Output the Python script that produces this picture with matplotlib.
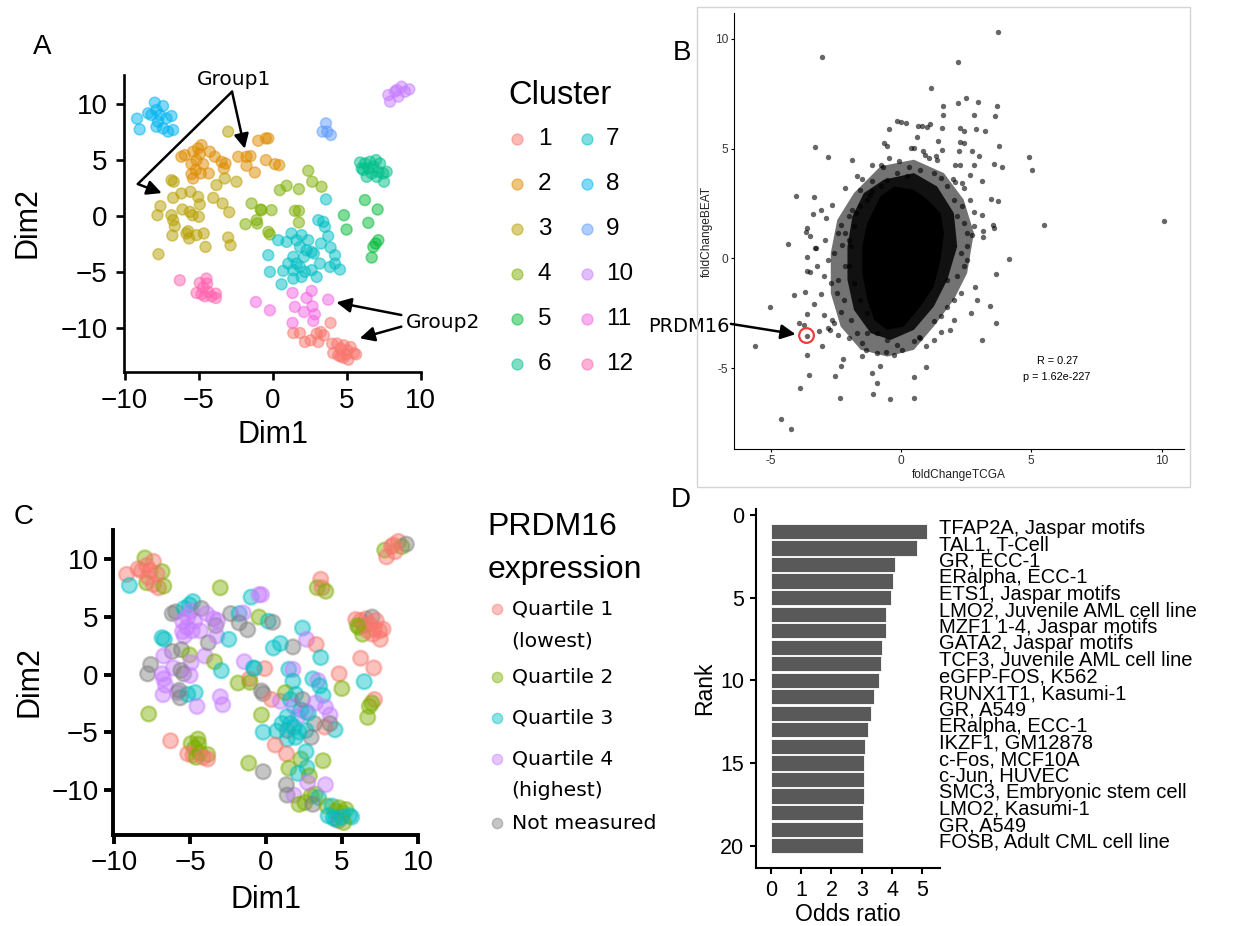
import matplotlib
matplotlib.use("Agg")
import matplotlib.pyplot as plt
from matplotlib.patches import Polygon, Rectangle

plt.rcParams['font.family'] = ['Liberation Sans', 'DejaVu Sans']
ANN_FONT = ['DejaVu Sans']

# ---------------- data: panels A / C (t-SNE coordinates) ----------------
c1_x = [1.39, 1.84, 2.18, 2.56, 2.97, 3.24, 3.46, 3.08, 3.91, 4.02, 4.36, 4.59, 4.81, 5.04, 5.26, 5.49, 5.63, 4.09, 4.43, 4.77, 5.11, 4.59, 4.99]
c1_y = [-10.45, -10.45, -11.25, -11.10, -10.51, -10.36, -10.66, -11.25, -9.55, -11.40, -11.40, -11.85, -11.55, -12.00, -11.70, -12.24, -12.36, -12.24, -12.44, -12.65, -12.83, -12.53, -12.36]
c1_q = [0, 4, 2, 2, 2, 2, 3, 0, 4, 2, 3, 2, 2, 2, 2, 3, 3, 3, 3, 0, 2, 3, 3]

c2_x = [-6.17, -5.94, -5.38, -5.04, -4.81, -4.93, -5.15, -5.49, -5.49, -5.38, -4.70, -4.32, -4.25, -3.91, -3.46, -3.30, -3.19, -2.33, -1.77, -1.50, -1.77, -1.21, -0.46, 0.15, 0.44, -0.98, -0.46, -0.30, -5.20, -4.86]
c2_y = [5.29, 5.44, 5.74, 6.04, 6.33, 5.53, 4.99, 4.63, 3.74, 3.35, 4.63, 3.80, 5.74, 5.29, 4.84, 4.25, 4.69, 5.29, 5.29, 5.35, 4.49, 3.89, 4.99, 4.63, 4.54, 6.72, 6.93, 6.93, 4.10, 3.80]
c2_q = [0, 0, 3, 3, 3, 4, 4, 4, 4, 4, 4, 4, 0, 4, 4, 0, 4, 0, 3, 4, 0, 0, 2, 3, 0, 3, 4, 4, 4, 4]

c3_x = [-3.01, -6.84, -6.69, -6.17, -6.73, -7.59, -7.79, -6.84, -6.10, -5.56, -5.04, -4.93, -5.60, -5.42, -4.99, -4.02, -3.39, -2.94, -3.80, -3.24, -2.45, -6.73, -6.62, -6.78, -5.83, -5.65, -5.15, -4.66, -4.54, -3.01, -2.85, -7.72, -5.72]
c3_y = [7.53, 3.20, 3.06, 2.01, 1.62, 0.88, 0.07, 0.07, 0.58, 2.16, 1.71, 1.03, 0.37, 0.07, -0.07, 1.62, 1.12, 0.34, 2.76, 3.35, 3.06, -0.37, -0.91, -1.74, -1.56, -2.01, -1.71, -1.56, -2.76, -1.92, -2.61, -3.41, -1.36]
c3_q = [2, 3, 3, 0, 4, 0, 0, 4, 4, 0, 2, 4, 0, 0, 4, 4, 2, 3, 0, 4, 3, 4, 4, 4, 4, 0, 3, 3, 4, 4, 4, 2, 0]

c4_x = [2.40, 2.67, 1.77, 3.30, 0.48, 0.94, -1.43, -0.76, -0.08, 1.50, 1.77, 1.77, -1.84, -1.09, -1.05, -0.30, -0.19, -0.82]
c4_y = [4.04, 3.06, 2.40, 2.61, 2.31, 2.70, 1.12, 0.52, 0.52, 0.46, 0.46, -0.58, -0.73, -0.37, -0.67, -1.42, -1.65, 0.58]
c4_q = [3, 4, 0, 1, 3, 3, 4, 3, 1, 3, 4, 3, 2, 1, 2, 0, 0, 3]

c5_x = [6.23, 7.09, 6.46, 4.81, 4.99, 7.14, 6.80, 6.69, 6.96]
c5_y = [1.42, 0.58, -0.61, 0.07, -1.21, -2.16, -2.76, -3.71, -2.46]
c5_q = [1, 1, 3, 1, 2, 1, 2, 2, 2]

c6_x = [5.90, 6.23, 6.57, 6.98, 7.25, 6.12, 6.46, 6.80, 7.14, 7.47, 7.70, 6.35, 6.69, 7.02, 7.52, 6.01]
c6_y = [4.78, 4.69, 4.84, 4.99, 4.69, 4.10, 4.25, 4.40, 3.95, 3.80, 3.95, 3.50, 3.80, 3.50, 3.06, 4.25]
c6_q = [1, 1, 1, 0, 1, 2, 1, 1, 1, 1, 1, 2, 1, 1, 1, 2]

c7_x = [3.60, 3.08, 3.42, 3.75, 3.91, 4.21, 4.54, 3.87, 3.19, 2.63, 2.97, 2.18, 1.95, 1.39, 1.05, 0.71, 0.37, 0.94, 1.27, 1.61, 1.95, 1.84, 2.29, 2.63, 2.11, 1.84, 1.39, 0.60, -0.30, -0.19, 1.61, 2.40, 2.78, 3.26, 1.39, 4.21, 3.53]
c7_y = [1.48, -0.37, -0.52, -1.80, -2.82, -3.50, -4.78, -4.55, -4.25, -4.84, -5.44, -4.99, -5.44, -4.84, -4.25, -4.90, -2.16, -2.31, -1.56, -2.16, -1.71, -2.76, -3.06, -3.20, -3.65, -4.55, -5.59, -6.10, -3.50, -4.99, -4.25, -2.16, -3.35, -2.46, -3.65, -4.25, -0.97]
c7_q = [3, 3, 4, 3, 4, 4, 3, 1, 0, 3, 0, 3, 3, 0, 3, 3, 1, 4, 2, 3, 3, 4, 3, 4, 4, 3, 3, 1, 2, 3, 3, 0, 3, 4, 3, 0, 3]

c8_x = [-9.17, -8.99, -8.42, -7.97, -7.86, -7.41, -7.63, -7.86, -7.41, -7.07, -6.84, -6.73, -8.20, -7.75, -7.18]
c8_y = [8.69, 7.73, 9.17, 10.12, 9.46, 9.82, 9.02, 7.97, 7.82, 7.53, 8.93, 7.68, 9.02, 8.42, 8.72]
c8_q = [1, 3, 1, 2, 1, 1, 1, 2, 1, 1, 2, 2, 1, 1, 1]

c9_x = [3.60, 3.37, 3.69, 3.93]
c9_y = [8.27, 7.53, 7.53, 7.23]
c9_q = [1, 2, 1, 2]

c10_x = [7.81, 7.93, 8.26, 8.71, 8.94, 9.23, 8.49, 8.38]
c10_y = [10.80, 10.21, 11.10, 11.55, 11.10, 11.31, 10.66, 11.25]
c10_q = [2, 1, 1, 1, 2, 0, 1, 1]

c11_x = [1.34, 2.29, 2.63, 2.69, 1.50, 2.11, 2.85, 2.74, 1.34, 3.75, -1.14, -0.19]
c11_y = [-6.87, -7.32, -6.69, -8.06, -8.12, -8.57, -8.78, -9.37, -9.55, -7.47, -7.68, -8.42]
c11_q = [1, 2, 3, 3, 2, 3, 2, 4, 0, 2, 2, 0]

c12_x = [-6.28, -4.93, -4.48, -4.43, -4.70, -5.15, -4.81, -4.36, -3.84, -3.84, -4.59, -4.14]
c12_y = [-5.74, -5.98, -5.59, -6.04, -6.39, -6.87, -6.99, -6.78, -6.93, -7.32, -7.17, -7.17]
c12_q = [1, 2, 2, 2, 2, 1, 1, 2, 2, 1, 2, 1]

cluster_names = ['1', '2', '3', '4', '5', '6', '7', '8', '9', '10', '11', '12']
quartile_names = ['Quartile 1\n(lowest)', 'Quartile 2', 'Quartile 3', 'Quartile 4\n(highest)', 'Not measured']

# ---------------- data: panel B ----------------
beat_x = [3.72, -3.01, 2.20, 1.16, 2.49, 2.20, 2.94, 3.68, 1.61, 1.61, 2.79, 3.62, -0.14, -0.01, 0.18, 0.67, 0.80, 1.11, -0.45, 1.02,
          1.57, 2.26, 2.41, 2.87, 3.21, 0.63, 1.42, 2.26, 2.41, -0.65, -0.55, -3.31, 3.78, 0.37, 0.50, 1.59, 2.22, 0.84, 2.74, 4.91,
          2.99, -2.78, -1.88, -0.08, -0.46, 1.07, 1.33, 1.38, 0.92, 3.57, 3.86, 5.03, -1.09, -0.78, -0.68, 0.31, 2.06, 2.25, 2.79, 2.66,
          3.12, 2.01, 2.07, 2.34, 2.41, -1.49, -1.12, -1.70, -2.16, -1.58, -1.20, -1.09, -4.02, -3.33, -2.63, -3.05, -3.39, 3.44, 3.73, 2.64,
          2.80, 3.12, 2.80, 3.52, 3.56, 3.14, 3.14, 5.48, 10.10, 4.14, 3.63, 2.86, 3.41, 3.63, 3.12, 0.95, 0.50, 0.50, -0.42, -1.06,
          -0.93, -1.12, -0.80, -2.34, -2.54, -2.28, -2.21, -3.52, -3.87, -3.59, -4.58, -4.23, -5.58, -5.02, -4.33, -4.10, -3.69, -3.62, -3.91, -3.72,
          -3.59, -3.59, -3.49, -3.65, -3.61, -3.49, -3.29, -3.26, -2.92, -3.01, -2.72, -3.14, -2.80, -2.55, -3.33, -3.08, -2.69, -3.20, -2.80, -2.55,
          -2.86, -2.41, -2.31, -2.00, -2.16, -2.25, -1.88, -1.72, -2.46, -2.18, -2.31, -1.93, -1.67, -1.99, -1.48, -1.35, -1.48, -0.93, -0.59, -0.27,
          0.05, -0.14, 0.50, 0.75, 0.98, 1.26, 1.52, 1.78, 2.03, 2.29, 1.78, 2.16, 2.41, 2.54, 2.29, 2.54, 2.74, 2.54, 2.41, 2.16,
          2.35, 2.03, 1.78, 1.52, 1.26, 0.75, 0.24, -0.14, -0.52, -0.78, -1.29, -1.55, -1.80, -1.93, -1.99, -1.80, -1.55, -1.29, -0.90, -0.52,
          1.26, 1.52, 2.03, 2.67, 2.93, 1.90, 0.68, -1.29, -2.43, -2.63, -2.95, -2.43, -2.95, -2.16, -1.99, -3.62]
beat_y = [10.31, 9.18, 8.97, 7.78, 7.33, 7.07, 7.12, 6.93, 6.93, 6.55, 6.52, 6.51, 6.28, 6.20, 6.18, 6.02, 6.04, 6.14, 5.91, 5.99,
          5.95, 5.95, 5.79, 5.91, 5.79, 5.54, 5.34, 5.29, 5.26, 5.26, 5.11, 5.08, 5.11, 5.03, 5.03, 4.96, 4.88, 4.88, 4.88, 4.61,
          4.65, 4.61, 4.49, 4.44, 4.59, 4.59, 4.68, 4.50, 4.71, 4.32, 4.18, 4.01, 4.24, 4.24, 4.17, 4.17, 4.24, 4.24, 4.24, 3.82,
          3.51, 3.63, 3.48, 3.42, 3.21, 3.63, 3.54, 3.77, 3.19, 3.13, 2.90, 3.06, 2.83, 2.80, 2.42, 2.22, 2.04, 2.72, 2.60, 2.68,
          2.13, 1.98, 1.46, 1.52, 1.39, 1.23, 0.98, 1.52, 1.71, -0.03, -0.70, -1.31, -2.16, -2.95, -3.72, -4.94, -5.39, -6.35, -6.40, -6.17,
          -5.68, -5.20, -4.88, -6.35, -5.36, -4.92, -4.57, -5.33, -5.90, -4.39, -7.30, -7.78, -4.01, -2.23, 0.67, -1.66, -1.52, -2.52, -2.92, -3.02,
          0.06, -0.59, -0.61, 1.19, 1.39, 1.04, 0.46, 0.46, 0.82, -3.97, -3.25, -3.30, -3.16, -2.93, -2.07, -1.62, -1.12, -0.36, -0.06, 0.25,
          1.84, 1.16, 1.54, 1.92, 1.16, 0.62, 2.22, 2.05, -1.58, -1.88, -2.42, -2.80, -3.40, -3.63, -3.86, -4.16, -4.44, -4.31, -4.24, -4.39,
          -4.16, -3.94, -3.78, -3.63, -4.01, -2.87, -2.64, -2.19, -1.88, -1.58, -0.97, -0.82, -0.36, -0.06, 0.25, 0.55, 1.08, 1.16, 1.61, 1.92,
          2.37, 2.68, 3.28, 3.67, 3.89, 4.05, 3.74, 3.89, 3.59, 3.28, 2.68, 2.37, 1.46, 0.55, -0.36, -1.12, -1.88, -2.49, -3.40, -3.71,
          -3.71, -3.33, -2.80, -2.49, -1.88, -3.25, -3.56, -3.40, -3.48, -2.80, -2.57, -0.97, -0.82, -0.36, 0.85, -3.51]
# outline of the saturated (fully overlapping) core of the point cloud
core_x = [-0.27, 0.50, 1.01, 1.52, 1.65, 1.52, 1.26, 0.75, 0.11, -0.52, -1.03, -1.29, -1.48, -1.48, -1.29, -0.78]
core_y = [3.28, 3.13, 2.68, 2.07, 1.16, -0.06, -1.28, -2.19, -3.10, -3.25, -2.80, -1.88, -0.67, 0.55, 1.61, 2.83]
# outline of the dense, almost saturated band round the core
mid_x = [-0.65, 0.50, 1.39, 2.03, 2.16, 1.78, 1.26, 0.50, -0.39, -1.16, -1.80, -2.05, -2.05, -1.86, -1.42]
mid_y = [3.59, 3.89, 3.28, 2.07, 0.55, -0.97, -2.19, -3.25, -3.71, -3.40, -2.34, -0.97, 0.55, 1.92, 2.98]
# outline of the outer, partly overlapping halo
halo_x = [-0.78, 0.50, 1.65, 2.41, 2.80, 2.54, 2.03, 1.26, 0.50, -0.52, -1.54, -2.31, -2.69, -2.69, -2.44, -1.80]
halo_y = [4.20, 4.50, 3.89, 2.68, 1.16, -0.67, -1.88, -3.10, -4.16, -4.47, -4.16, -3.10, -1.58, 0.25, 1.76, 2.98]
prdm16_x, prdm16_y = -3.62, -3.51
corr_text = ['R = 0.27', 'p = 1.62e-227']
b_ticks = [-5, 0, 5, 10]
b_ticklabels = ['-5', '0', '5', '10']

# ---------------- data: panel D ----------------
d_rank = list(range(1, 21))
d_odds = [5.15, 4.82, 4.10, 4.03, 3.97, 3.81, 3.79, 3.66, 3.63, 3.58,
          3.40, 3.31, 3.20, 3.11, 3.08, 3.07, 3.06, 3.05, 3.04, 3.04]
d_labels = ['TFAP2A, Jaspar motifs', 'TAL1, T-Cell', 'GR, ECC-1', 'ERalpha, ECC-1', 'ETS1, Jaspar motifs',
            'LMO2, Juvenile AML cell line', 'MZF1 1-4, Jaspar motifs', 'GATA2, Jaspar motifs',
            'TCF3, Juvenile AML cell line', 'eGFP-FOS, K562', 'RUNX1T1, Kasumi-1', 'GR, A549',
            'ERalpha, ECC-1', 'IKZF1, GM12878', 'c-Fos, MCF10A', 'c-Jun, HUVEC', 'SMC3, Embryonic stem cell',
            'LMO2, Kasumi-1', 'GR, A549', 'FOSB, Adult CML cell line']

# ---------------- styling ----------------
hue12 = ['#F8766D', '#DE8C00', '#B79F00', '#7CAE00', '#00BA38', '#00C08B',
         '#00BFC4', '#00B4F0', '#619CFF', '#C77CFF', '#F564E3', '#FF64B0']
qcol = {1: '#F8766D', 2: '#7CAE00', 3: '#00BFC4', 4: '#C77CFF', 0: '#7F7F7F'}
q_order = [1, 2, 3, 4, 0]

W, H = 1243, 926


def rect(l, t, r, b):
    return [l / W, 1 - b / H, (r - l) / W, (b - t) / H]


def style(ax, lw, ticklen, labelsize, pad):
    for s in ['top', 'right']:
        ax.spines[s].set_visible(False)
    for s in ['left', 'bottom']:
        ax.spines[s].set_linewidth(lw)
    ax.tick_params(length=ticklen, width=lw, labelsize=labelsize, pad=pad)
    ax.patch.set_alpha(0)


fig = plt.figure(figsize=(W / 100, H / 100), dpi=100)

xs_all = [c1_x, c2_x, c3_x, c4_x, c5_x, c6_x, c7_x, c8_x, c9_x, c10_x, c11_x, c12_x]
ys_all = [c1_y, c2_y, c3_y, c4_y, c5_y, c6_y, c7_y, c8_y, c9_y, c10_y, c11_y, c12_y]
qs_all = [c1_q, c2_q, c3_q, c4_q, c5_q, c6_q, c7_q, c8_q, c9_q, c10_q, c11_q, c12_q]
dim1, dim2, clus, quart = [], [], [], []
for k in range(12):
    dim1 += xs_all[k]
    dim2 += ys_all[k]
    clus += [k] * len(xs_all[k])
    quart += qs_all[k]

# ---------------- Panel A ----------------
axA = fig.add_axes(rect(124, 75, 421, 372))
colsA = [hue12[k] for k in clus]
axA.scatter(dim1, dim2, s=62, c=colsA, alpha=0.5, edgecolors=colsA, linewidths=1.1, zorder=2)
axA.set_xlim(-10.05, 10.02)
axA.set_ylim(-13.93, 12.59)
axA.set_xticks([-10, -5, 0, 5, 10])
axA.set_yticks([-10, -5, 0, 5, 10])
style(axA, 1.9, 5.8, 20, 6)
axA.set_xlabel('Dim1', fontsize=22)
axA.set_ylabel('Dim2', fontsize=22)
axA.xaxis.set_label_coords(0.5, -0.212)
axA.xaxis.label.set_va('center')
axA.yaxis.set_label_coords(-0.325, 0.503)
axA.yaxis.label.set_va('center')

arrow_kw = dict(arrowstyle='-|>', color='black', lw=1.8, mutation_scale=22, shrinkA=0, shrinkB=0)
axA.text(-2.58, 11.70, 'Group1', ha='center', va='baseline', fontsize=14.5, family=ANN_FONT)
axA.annotate('', xy=(-1.89, 6.00), xytext=(-2.75, 11.10), arrowprops=arrow_kw, annotation_clip=False)
axA.annotate('', xy=(-7.50, 2.05), xytext=(-2.75, 11.10),
             arrowprops=dict(connectionstyle='angle,angleA=-135.6,angleB=-20.6,rad=0', **arrow_kw),
             annotation_clip=False)
axA.text(8.99, -10.0, 'Group2', ha='left', va='baseline', fontsize=14.5, family=ANN_FONT, clip_on=False)
axA.annotate('', xy=(4.30, -7.71), xytext=(8.69, -8.84), arrowprops=arrow_kw, annotation_clip=False)
axA.annotate('', xy=(5.88, -10.92), xytext=(8.69, -9.88), arrowprops=arrow_kw, annotation_clip=False)

# ---------------- Panel C ----------------
axC = fig.add_axes(rect(113, 530, 418.3, 835))
colsC = [qcol[q] for q in quart]
axC.scatter(dim1, dim2, s=115, c=colsC, alpha=0.45, edgecolors=colsC, linewidths=1.7, zorder=2)
axC.set_xlim(-10.07, 10.02)
axC.set_ylim(-13.91, 12.54)
axC.set_xticks([-10, -5, 0, 5, 10])
axC.set_yticks([-10, -5, 0, 5, 10])
style(axC, 2.8, 6.5, 20, 4)
axC.set_xlabel('Dim1', fontsize=22)
axC.set_ylabel('Dim2', fontsize=22)
axC.xaxis.set_label_coords(0.501, -0.213)
axC.xaxis.label.set_va('center')
axC.yaxis.set_label_coords(-0.275, 0.502)
axC.yaxis.label.set_va('center')

# ---------------- Panel B ----------------
axB = fig.add_axes(rect(734.3, 13.3, 1184.3, 449))
axB.add_patch(Polygon(list(zip(halo_x, halo_y)), closed=True, facecolor='black', alpha=0.55, lw=0, zorder=1))
axB.add_patch(Polygon(list(zip(mid_x, mid_y)), closed=True, facecolor='black', alpha=0.85, lw=0, zorder=1))
axB.add_patch(Polygon(list(zip(core_x, core_y)), closed=True, facecolor='black', alpha=1.0, lw=0, zorder=1))
axB.scatter(beat_x, beat_y, s=15, color='black', alpha=0.6, linewidths=0, zorder=2)
axB.scatter([prdm16_x], [prdm16_y], s=112, facecolors='none', edgecolors='#F23B3B', linewidths=1.6, zorder=3)
axB.set_xlim(-6.39, 10.87)
axB.set_ylim(-8.68, 11.17)
axB.set_xticks(b_ticks)
axB.set_xticklabels(b_ticklabels)
axB.set_yticks(b_ticks)
axB.set_yticklabels(b_ticklabels)
style(axB, 0.8, 2.2, 8.6, 2)
axB.tick_params(labelcolor='#333333')
axB.set_xlabel('foldChangeTCGA', fontsize=8.6, color='#222222')
axB.set_ylabel('foldChangeBEAT', fontsize=8.6, color='#222222')
axB.xaxis.set_label_coords(0.5, -0.0597)
axB.xaxis.label.set_va('center')
axB.yaxis.set_label_coords(-0.0607, 0.5)
axB.yaxis.label.set_va('center')
axB.text(5.99, -4.65, corr_text[0], ha='center', va='center', fontsize=7.8)
axB.text(5.99, -5.42, corr_text[1], ha='center', va='center', fontsize=7.8)
axB.text(-6.56, -3.34, 'PRDM16', ha='right', va='baseline', fontsize=14, family=ANN_FONT, clip_on=False)
axB.annotate('', xy=(-4.04, -3.45), xytext=(-6.52, -2.98), arrowprops=arrow_kw, annotation_clip=False)
fig.patches.append(Rectangle((697 / W, 1 - 487 / H), (1190 - 697) / W, (487 - 7) / H,
                             transform=fig.transFigure, fill=False, edgecolor='#d4d4d4', lw=1.0))

# ---------------- Panel D ----------------
axD = fig.add_axes(rect(756, 509.3, 940, 868.3))
axD.barh(d_rank, d_odds, height=0.92, color='#595959', edgecolor='white', linewidth=0.6, zorder=2)
axD.set_xlim(-0.49, 5.58)
axD.set_ylim(21.37, -0.34)
axD.set_xticks([0, 1, 2, 3, 4, 5])
axD.set_yticks([0, 5, 10, 15, 20])
style(axD, 1.5, 4.5, 15.5, 4)
axD.set_xlabel('Odds ratio', fontsize=16.5)
axD.set_ylabel('Rank', fontsize=16.5)
axD.xaxis.set_label_coords(0.5, -0.130)
axD.xaxis.label.set_va('center')
axD.yaxis.set_label_coords(-0.277, 0.502)
axD.yaxis.label.set_va('center')
ytr = axD.get_yaxis_transform()
for r, lab in zip(d_rank, d_labels):
    axD.text(0.995, r - 0.2, lab, transform=ytr, ha='left', va='center', fontsize=14.5, clip_on=False)

# ---------------- overlay: legends and panel letters (pixel coordinates) ----------------
ov = fig.add_axes([0, 0, 1, 1])
ov.set_xlim(0, W)
ov.set_ylim(H, 0)
ov.axis('off')

for lab, (px, py) in zip(['A', 'B', 'C', 'D'], [(42, 47), (682, 53), (24, 517), (681, 500)]):
    ov.text(px, py, lab, fontsize=20, ha='center', va='center')

# Cluster legend
ov.text(508, 96, 'Cluster', fontsize=23.5, ha='left', va='center')
for i, name in enumerate(cluster_names):
    col, row = divmod(i, 6)
    my = 139.3 + row * 45.0
    mx = [517.3, 586.7][col]
    tx = [537.7, 605.7][col]
    ov.scatter([mx], [my], s=62, color=hue12[i], alpha=0.5, edgecolors=hue12[i], linewidths=1.0)
    ov.text(tx, my, name, fontsize=17.5, ha='left', va='center')

# PRDM16 expression legend
ov.text(487.7, 526.7, 'PRDM16', fontsize=23, ha='left', va='center')
ov.text(487.7, 570, 'expression', fontsize=23, ha='left', va='center')
row_y = [609.3, 677.3, 718.3, 759.3, 823.3]
for q, name, ry in zip(q_order, quartile_names, row_y):
    ov.scatter([496.7], [ry], s=55, color=qcol[q], alpha=0.45, edgecolors=qcol[q], linewidths=1.0)
    for j, line in enumerate(name.split('\n')):
        ov.text(511.7, ry + j * 31.7, line, fontsize=14.7, ha='left', va='center', family=ANN_FONT)

fig.savefig('out.png', dpi=100)
